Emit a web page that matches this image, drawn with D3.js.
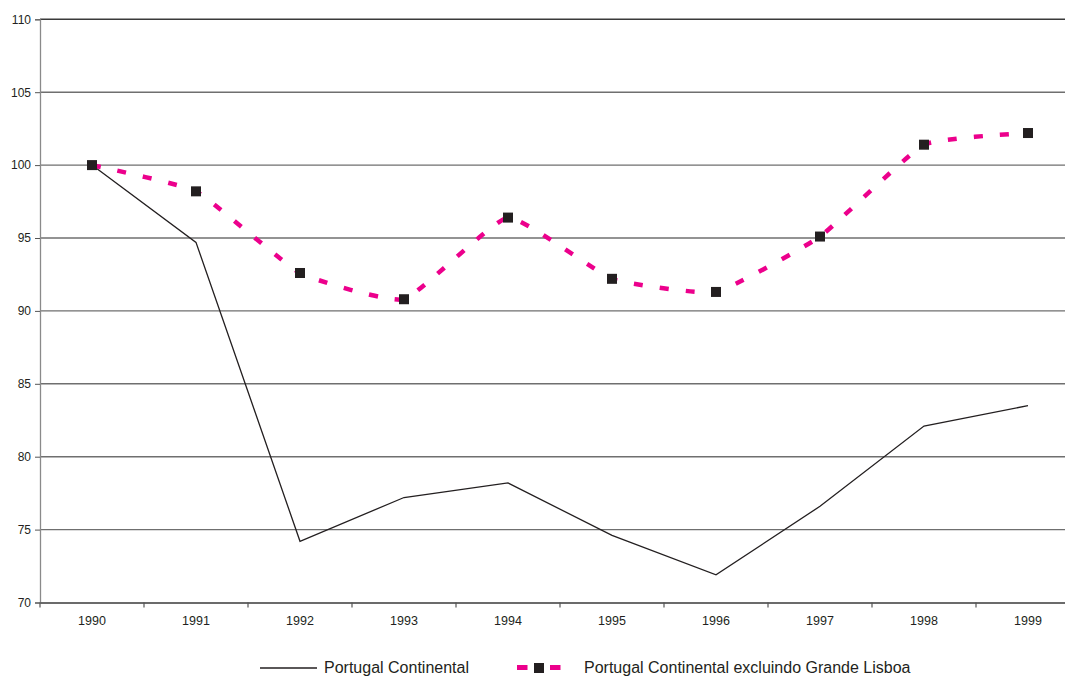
<!DOCTYPE html>
<html>
<head>
<meta charset="utf-8">
<script src="https://cdn.jsdelivr.net/npm/d3@7/dist/d3.min.js"></script>
<style>
  html, body { margin: 0; padding: 0; background: #fff; }
  svg { display: block; }
  text { font-family: "Liberation Sans", Arial, sans-serif; fill: #231f20; }
</style>
</head>
<body>
<svg id="chart" width="1065" height="677"></svg>
<script>
// Index values (1990 = 100)
const years = ["1990", "1991", "1992", "1993", "1994", "1995", "1996", "1997", "1998", "1999"];
const continental = [100, 94.7, 74.2, 77.2, 78.2, 74.6, 71.9, 76.6, 82.1, 83.5];
const semLisboa = [100, 98.2, 92.6, 90.8, 96.4, 92.2, 91.3, 95.1, 101.4, 102.2];
const yTicks = [70, 75, 80, 85, 90, 95, 100, 105, 110];
const seriesNames = ["Portugal Continental", "Portugal Continental excluindo Grande Lisboa"];

const svg = d3.select("#chart");
const plotLeft = 40, plotRight = 1080, plotTop = 19.3, plotBottom = 602.5;

const x = d3.scaleBand().domain(years).range([plotLeft, plotRight]).padding(0);
const y = d3.scaleLinear().domain([70, 110]).range([plotBottom, plotTop]);
const cx = d => x(d) + x.bandwidth() / 2;

// Horizontal gridlines
svg.append("g").selectAll("line")
  .data(yTicks.filter(v => v > 70))
  .join("line")
  .attr("x1", plotLeft).attr("x2", 1065)
  .attr("y1", d => y(d)).attr("y2", d => y(d))
  .attr("stroke", d => d === 110 ? "#3a3a3a" : "#6f6f6f")
  .attr("stroke-width", 1.4);

// Y axis
const yAxis = svg.append("g")
  .attr("transform", `translate(${plotLeft},0)`)
  .call(d3.axisLeft(y).tickValues(yTicks).tickSize(5).tickPadding(4).tickFormat(d3.format("d")));
yAxis.select(".domain").attr("stroke", "#8a8a8a").attr("stroke-width", 1.3);
yAxis.selectAll(".tick line").attr("stroke", "#555");
yAxis.selectAll(".tick text").attr("font-size", 12).attr("fill", "#231f20")
  .attr("font-family", "Liberation Sans, Arial, sans-serif");

// X axis: labels centered in bands, ticks on band boundaries
const xAxis = svg.append("g")
  .attr("transform", `translate(0,${plotBottom})`)
  .call(d3.axisBottom(x).tickSize(0).tickPadding(14));
xAxis.select(".domain").attr("stroke", "#3a3a3a").attr("stroke-width", 1.4);
xAxis.selectAll(".tick text").attr("font-size", 12.5).attr("fill", "#231f20")
  .attr("font-family", "Liberation Sans, Arial, sans-serif");
svg.append("g").selectAll("line")
  .data(years)
  .join("line")
  .attr("x1", d => x(d)).attr("x2", d => x(d))
  .attr("y1", plotBottom).attr("y2", plotBottom + 5)
  .attr("stroke", "#555").attr("stroke-width", 1.2);

// Portugal Continental: thin solid line
const lineStraight = d3.line().x((d, i) => cx(years[i])).y(d => y(d));
svg.append("path")
  .datum(continental)
  .attr("d", lineStraight)
  .attr("fill", "none")
  .attr("stroke", "#231f20")
  .attr("stroke-width", 1.3);

// Excluding Grande Lisboa: lightly smoothed dashed pink line with square markers
const lineSmooth = d3.line().curve(d3.curveCardinal.tension(0.6))
  .x((d, i) => cx(years[i])).y(d => y(d));
svg.append("path")
  .datum(semLisboa)
  .attr("d", lineSmooth)
  .attr("fill", "none")
  .attr("stroke", "#ec008c")
  .attr("stroke-width", 4.5)
  .attr("stroke-dasharray", "9 17");

const ms = 10;
svg.append("g").selectAll("rect")
  .data(semLisboa)
  .join("rect")
  .attr("x", (d, i) => cx(years[i]) - ms / 2)
  .attr("y", d => y(d) - ms / 2)
  .attr("width", ms).attr("height", ms)
  .attr("fill", "#231f20");

// Legend
const lg = svg.append("g");
const ly = 668;
lg.append("line").attr("x1", 260).attr("x2", 317).attr("y1", ly).attr("y2", ly)
  .attr("stroke", "#231f20").attr("stroke-width", 1.3);
lg.append("text").attr("x", 324).attr("y", 673).attr("font-size", 16).text(seriesNames[0]);

lg.append("rect").attr("x", 517).attr("y", ly - 3).attr("width", 10.5).attr("height", 5).attr("fill", "#ec008c");
lg.append("rect").attr("x", 534).attr("y", ly - 5).attr("width", 10).attr("height", 10).attr("fill", "#231f20");
lg.append("rect").attr("x", 550).attr("y", ly - 3).attr("width", 10.5).attr("height", 5).attr("fill", "#ec008c");
lg.append("text").attr("x", 584).attr("y", 673).attr("font-size", 16).text(seriesNames[1]);
</script>
</body>
</html>
